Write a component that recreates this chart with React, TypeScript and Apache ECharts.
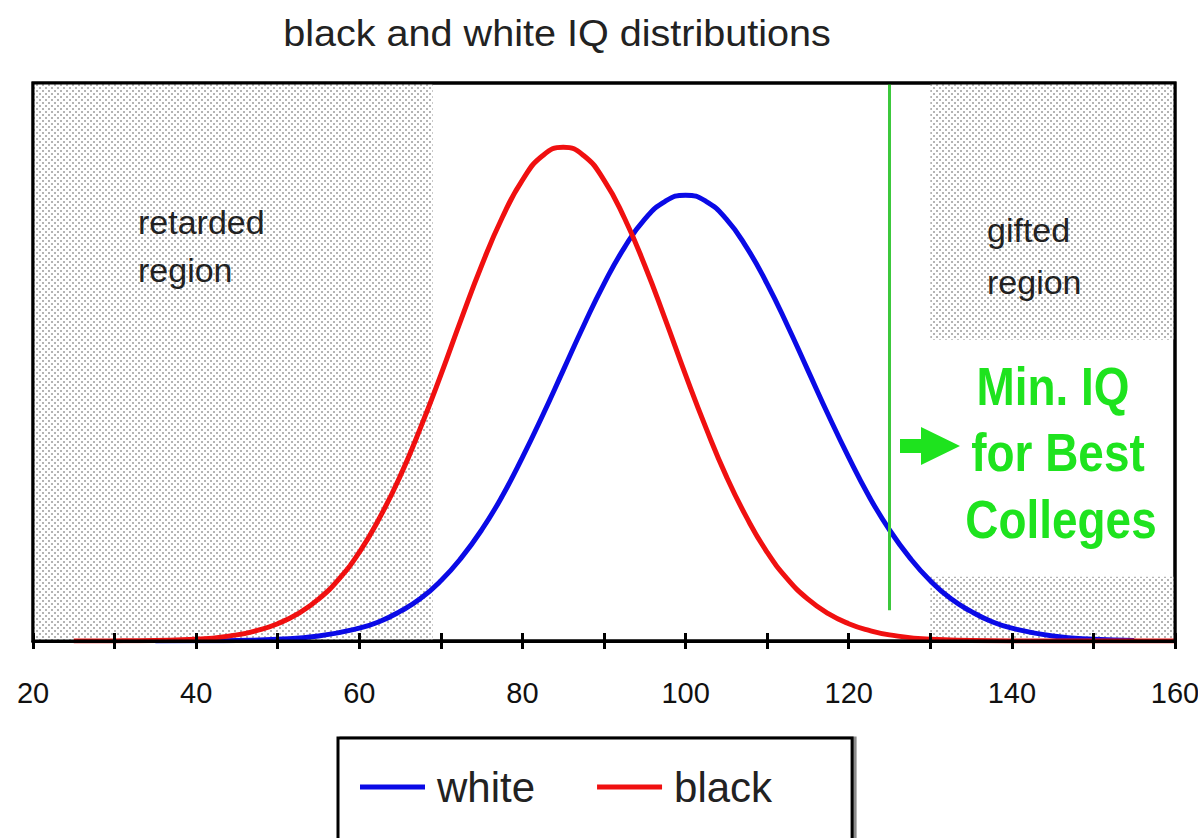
import React, { useEffect, useRef } from "react";
import * as echarts from "echarts";

// ---- data ----
const whiteX = [35, 40, 45, 50, 55, 60, 62.5, 65, 67.5, 70, 72.5, 75, 77.5, 80, 82.5, 85, 87.5, 90, 92.5, 95, 97.5, 100,
  102.5, 105, 107.5, 110, 112.5, 115, 117.5, 120, 122.5, 125, 127.5, 130, 132.5, 135, 137.5, 140, 145, 150, 155];
const whiteY = [0.0, 0.03, 0.1, 0.3, 0.9, 2.3, 3.5, 5.3, 7.6, 10.8, 14.9, 19.9, 25.9, 32.9, 40.5, 48.5, 56.5, 64.0, 70.5, 75.6, 78.8, 79.9,
  78.8, 75.6, 70.5, 64.0, 56.5, 48.5, 40.5, 32.9, 25.9, 19.9, 14.9, 10.8, 7.6, 5.3, 3.5, 2.3, 0.9, 0.3, 0.1];
const blackX = [25, 30, 35, 40, 45, 47.5, 50, 52.5, 55, 57.5, 60, 62.5, 65, 67.5, 70, 72.5, 75, 77.5, 80, 82.5, 85,
  87.5, 90, 92.5, 95, 97.5, 100, 102.5, 105, 107.5, 110, 112.5, 115, 117.5, 120, 122.5, 125, 130, 135, 140, 150, 160];
const blackY = [0.0, 0.02, 0.1, 0.3, 1.1, 1.9, 3.1, 4.9, 7.5, 11.1, 15.9, 22.1, 29.5, 38.2, 47.7, 57.7, 67.3, 75.8, 82.6, 87.0, 88.5,
  87.0, 82.6, 75.8, 67.3, 57.7, 47.7, 38.2, 29.5, 22.1, 15.9, 11.1, 7.5, 4.9, 3.1, 1.9, 1.1, 0.3, 0.1, 0.02, 0.0, 0.0];
const seriesNames = ["white", "black"];
const xTickLabels = [20, 40, 60, 80, 100, 120, 140, 160];
const retardedRange = [20, 69];
const giftedRange = [130, 160];
const giftedGap = [11.5, 54];
const collegeCutoff = 125;
const titleText = "black and white IQ distributions";
const leftRegionLines = ["retarded", "region"];
const rightRegionLines = ["gifted", "region"];
const noteLines = ["Min. IQ", "for Best", "Colleges"];

const FONT = "'Liberation Sans', Arial, Helvetica, sans-serif";

const GRID = { left: 33, right: 23, top: 83, bottom: 197 };
const W = 1198;
const H = 838;

function makePattern(): string {
  const c = document.createElement("canvas");
  c.width = 6;
  c.height = 6;
  const ctx = c.getContext("2d")!;
  ctx.fillStyle = "#ffffff";
  ctx.fillRect(0, 0, 6, 6);
  ctx.fillStyle = "#b4b4b4";
  ctx.fillRect(0, 0, 2, 2);
  ctx.fillRect(3, 3, 2, 2);
  return c.toDataURL();
}

export default function App() {
  const ref = useRef<HTMLDivElement>(null);

  useEffect(() => {
    if (!ref.current) return;
    const chart = echarts.init(ref.current, undefined, { renderer: "svg" });
    const pattern: any = { image: makePattern(), repeat: "repeat", imageWidth: 6, imageHeight: 6 };
    const green = "#1ee31e";

    const textEl = (text: string, x: number, y: number, font: string, fill: string, align = "left", scaleX = 1) => ({
      type: "text",
      x,
      y,
      z: 100,
      scaleX,
      style: {
        text,
        font,
        fill,
        align,
        textAlign: align,
        verticalAlign: "middle",
        textVerticalAlign: "middle",
      },
    });

    const gw = W - GRID.left - GRID.right;
    const gh = H - GRID.top - GRID.bottom;

    const graphics: any[] = [
      textEl(titleText, 557, 33, `37px ${FONT}`, "#222", "center", 1.07),
      textEl(leftRegionLines[0], 138, 222, `34px ${FONT}`, "#222"),
      textEl(leftRegionLines[1], 138, 270, `34px ${FONT}`, "#222"),
      textEl(rightRegionLines[0], 987, 230, `34px ${FONT}`, "#222"),
      textEl(rightRegionLines[1], 987, 282, `34px ${FONT}`, "#222"),
      textEl(noteLines[0], 1053, 387, `bold 54px ${FONT}`, green, "center", 0.85),
      textEl(noteLines[1], 1058, 453, `bold 54px ${FONT}`, green, "center", 0.85),
      textEl(noteLines[2], 1061, 520, `bold 54px ${FONT}`, green, "center", 0.85),
      {
        type: "polygon",
        z: 100,
        shape: {
          points: [
            [900, 439], [921, 439], [921, 427], [960, 446], [921, 465], [921, 453], [900, 453],
          ],
        },
        style: { fill: green },
      },
      {
        type: "rect",
        z: 90,
        silent: true,
        shape: { x: GRID.left, y: GRID.top, width: gw, height: gh },
        style: { fill: "none", stroke: "#000", lineWidth: 3 },
      },
    ];

    const tickStyle = { color: "#000", width: 3 };

    chart.setOption({
      animation: false,
      backgroundColor: "#fff",
      textStyle: { fontFamily: FONT },
      grid: {
        ...GRID,
        outerBoundsMode: "none",
        containLabel: false,
        show: true,
        borderColor: "#000",
        borderWidth: 3,
        backgroundColor: "#fff",
      },
      legend: {
        data: seriesNames,
        left: 338,
        top: 738,
        orient: "horizontal",
        icon: "rect",
        itemWidth: 65,
        itemHeight: 5,
        itemGap: 62,
        padding: [28, 80, 40, 22],
        borderColor: "#000",
        borderWidth: 3,
        backgroundColor: "#fff",
        shadowColor: "rgba(0,0,0,0.45)",
        shadowOffsetX: 3,
        shadowOffsetY: 0,
        shadowBlur: 0,
        textStyle: { fontSize: 42, color: "#222", fontFamily: FONT, padding: [0, 0, 0, 7] },
      },
      xAxis: [
        {
          type: "value",
          min: 20,
          max: 160,
          interval: 10,
          position: "bottom",
          z: 10,
          axisLine: { show: true, lineStyle: { color: "#000", width: 3 } },
          axisTick: { show: true, length: 8, lineStyle: tickStyle },
          axisLabel: {
            fontSize: 29,
            color: "#111",
            margin: 37,
            showMinLabel: true,
            showMaxLabel: true,
            formatter: (v: number) => (xTickLabels.includes(v) ? String(v) : ""),
          },
          splitLine: { show: false },
        },
        {
          type: "value",
          min: 20,
          max: 160,
          interval: 10,
          position: "top",
          offset: -gh,
          z: 10,
          axisLine: { show: false },
          axisTick: { show: true, length: 8, lineStyle: tickStyle },
          axisLabel: { show: false },
          splitLine: { show: false },
        },
      ],
      yAxis: { type: "value", min: 0, max: 100, show: false, splitLine: { show: false } },
      graphic: graphics,
      series: [
        {
          name: seriesNames[0],
          type: "line",
          xAxisIndex: 0,
          data: whiteX.map((x, i) => [x, whiteY[i]]),
          smooth: true,
          showSymbol: false,
          color: "#0a0ae6",
          lineStyle: { width: 5, color: "#0a0ae6" },
          z: 3,
          markArea: {
            silent: true,
            itemStyle: { color: pattern },
            data: [
              [{ xAxis: retardedRange[0], yAxis: 0 }, { xAxis: retardedRange[1], yAxis: 100 }],
              [{ xAxis: giftedRange[0], yAxis: giftedGap[1] }, { xAxis: giftedRange[1], yAxis: 100 }],
              [{ xAxis: giftedRange[0], yAxis: 0 }, { xAxis: giftedRange[1], yAxis: giftedGap[0] }],
            ],
          },
        },
        {
          name: seriesNames[1],
          type: "line",
          xAxisIndex: 0,
          data: blackX.map((x, i) => [x, blackY[i]]),
          smooth: true,
          showSymbol: false,
          color: "#f01010",
          lineStyle: { width: 5, color: "#f01010" },
          z: 4,
          markLine: {
            silent: true,
            symbol: "none",
            label: { show: false },
            lineStyle: { color: "#3cc83c", width: 3, type: "solid" },
            data: [[{ coord: [collegeCutoff, 5.5] }, { coord: [collegeCutoff, 100] }]],
          },
        },
      ],
    });

    return () => chart.dispose();
  }, []);

  return (
    <div
      ref={ref}
      style={{ position: "fixed", left: 0, top: 0, width: W, height: H, background: "#fff" }}
    />
  );
}
